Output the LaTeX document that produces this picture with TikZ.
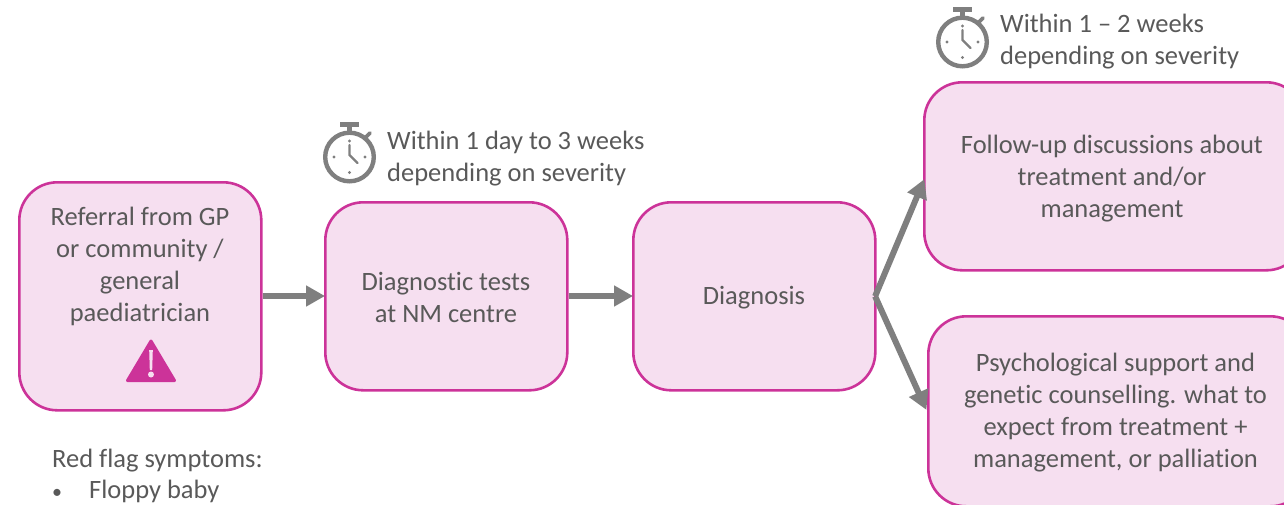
\documentclass[tikz,border=0pt]{standalone}
\usepackage{fontspec}
\setmainfont[Ligatures=NoCommon]{Carlito}
\usetikzlibrary{arrows.meta}
\definecolor{boxfill}{HTML}{F6DFF0}
\definecolor{boxline}{HTML}{CC3399}
\definecolor{arrowgrey}{HTML}{7F7F7F}
\definecolor{txtgrey}{HTML}{595959}
\tikzset{
  flowbox/.style={draw=boxline,fill=boxfill,line width=2.6pt,rounded corners=38pt,inner sep=0pt,anchor=north west,align=center,text=txtgrey,font=\fontsize{26.5}{32}\selectfont},
  lbl/.style={text=txtgrey,font=\fontsize{26.5}{32}\selectfont,inner sep=0pt,align=center},
  lblleft/.style={lbl,align=left,anchor=west},
  flow/.style={draw=arrowgrey,line width=6pt,-{Triangle[length=19pt,width=20pt]},shorten >=-1pt},
  pics/watch/.style={code={
    \draw[arrowgrey,line width=4.4pt] (0,0) circle (24.3pt);
    \fill[arrowgrey] (-9.5,-35) rectangle (9.5,-30.5);
    \fill[arrowgrey] (-2.2,-31) rectangle (2.2,-25);
    \draw[arrowgrey,line width=3.6pt,line cap=round] (16.5,-20) -- (20.5,-24);
    \draw[arrowgrey,line width=2.2pt,line cap=round] (0,-12) -- (0,-2) -- (8,6);
    \fill[arrowgrey] (0,-16) circle (1.7pt) (0,15.5) circle (1.7pt) (-15.5,0) circle (1.7pt) (15.5,0) circle (1.7pt);
  }}
}
\begin{document}
\begin{tikzpicture}[x=1pt,y=-1pt]
\useasboundingbox (0,0) rectangle (1284,504);
\clip (0,0) rectangle (1284,504);
\node[flowbox,minimum width=242pt,minimum height=228pt] (ref) at (18,181) {};
\node[flowbox,minimum width=242pt,minimum height=188pt] (tests) at (324,201) {};
\node[flowbox,minimum width=242pt,minimum height=188pt] (diag) at (632,201) {};
\node[flowbox,minimum width=380pt,minimum height=188pt] (follow) at (923,81) {};
\node[flowbox,minimum width=380pt,minimum height=190pt] (psych) at (927,315) {};
\node[lbl] (teststext) at (446,297) {Diagnostic tests\\at NM centre};
\node[lbl] (diagtext) at (754,298) {Diagnosis};
\node[lbl] (reftext) at (140,266) {Referral from GP\\or community /\\general\\paediatrician};
\node[lbl] (followtext) at (1112,179) {Follow-up discussions about\\treatment and/or\\management};
\node[lbl] (psychtext) at (1115.5,413) {Psychological support and\\genetic counselling. what to\\expect from treatment +\\management, or palliation};
\path[fill=boxline,draw=boxline,line width=3pt,line join=round] (151,341) -- (127.5,380.5) -- (174.5,380.5) -- cycle;
\fill[boxfill] (149.2,350) -- (152.8,350) -- (152.2,370) -- (149.8,370) -- cycle;
\fill[boxfill] (151,374.5) circle (3pt);
\draw[flow] (ref.east |- 0,296) -- (tests.west |- 0,296);
\draw[flow] (tests.east |- 0,296) -- (diag.west |- 0,296);
\coordinate (fork) at ([xshift=-1.5pt]diag.east);
\coordinate (fup) at (924,180);
\coordinate (fdn) at (926,409);
\draw[flow] (fork) -- (fup);
\draw[flow] (fork) -- (fdn);
\pic at (349.5,157) {watch};
\pic at (962.5,42) {watch};
\node[lblleft] (t1) at (387,158.5) {Within 1 day to 3 weeks\\depending on severity};
\node[lblleft] (t2) at (1000,41.5) {Within 1 – 2 weeks\\depending on severity};
\node[lblleft,anchor=base west] (rf) at (52,467) {Red flag symptoms:};
\node[lbl,anchor=base west] (bul) at (52,498.5) {\fontsize{20}{32}\selectfont •};
\node[lbl,anchor=base west] (fb) at (89,498) {Floppy baby};
\end{tikzpicture}
\end{document}
